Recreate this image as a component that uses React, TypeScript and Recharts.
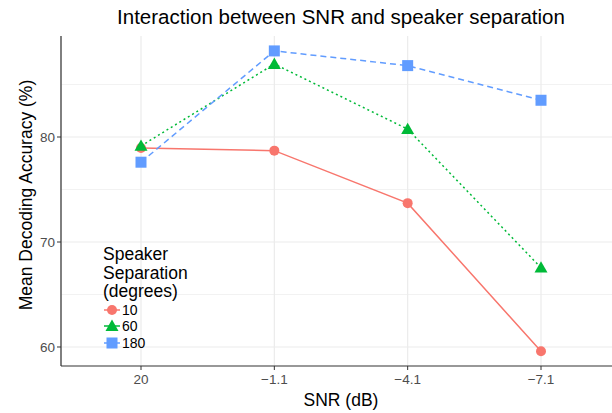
import React from 'react';
import {
  LineChart, Line, XAxis, YAxis, CartesianGrid,
} from 'recharts';

// SNR levels on the x axis
const snrLabels = ['20', '\u22121.1', '\u22124.1', '\u22127.1'];

// Mean decoding accuracy (%) per speaker separation
const sep10 = [78.95, 78.7, 73.7, 59.6];
const sep60 = [79.15, 86.95, 80.75, 67.55];
const sep180 = [77.6, 88.2, 86.8, 83.5];

const yTicks = [60, 70, 80];
const yMinor = [65, 75, 85];

const chartData = snrLabels.map((snr, i) => ({
  snr,
  s10: sep10[i],
  s60: sep60[i],
  s180: sep180[i],
}));

const FONT = '"Liberation Sans", Arial, sans-serif';
const RED = '#F8766D';
const GREEN = '#00BA38';
const BLUE = '#619CFF';

const Triangle = (props: any) => {
  const { cx, cy } = props;
  if (cx == null || cy == null) return null;
  const r = 6.5;
  return (
    <polygon
      points={`${cx},${cy - r} ${cx - r},${cy + r * 0.75} ${cx + r},${cy + r * 0.75}`}
      fill={GREEN}
    />
  );
};

const Square = (props: any) => {
  const { cx, cy } = props;
  if (cx == null || cy == null) return null;
  return <rect x={cx - 5.5} y={cy - 5.5} width={11} height={11} fill={BLUE} />;
};

const Circle = (props: any) => {
  const { cx, cy } = props;
  if (cx == null || cy == null) return null;
  return <circle cx={cx} cy={cy} r={5} fill={RED} />;
};

const YTitle = () => (
  <text
    x={27}
    y={195}
    transform="rotate(-90 27 195)"
    textAnchor="middle"
    dominantBaseline="middle"
    fontSize={17.5}
    fontFamily={FONT}
    fill="#000"
  >
    Mean Decoding Accuracy (%)
  </text>
);

const legendItems = [
  { label: '10', color: RED, shape: 'circle' },
  { label: '60', color: GREEN, shape: 'triangle' },
  { label: '180', color: BLUE, shape: 'square' },
];

const LegendBox = () => (
  <div style={{ position: 'absolute', left: 103, top: 245, fontFamily: FONT, color: '#000' }}>
    <div style={{ fontSize: 17.5, lineHeight: '18.5px', marginBottom: 1 }}>
      Speaker<br />Separation<br />(degrees)
    </div>
    {legendItems.map((it) => (
      <div key={it.label} style={{ display: 'flex', alignItems: 'center', height: 16.5, fontSize: 14 }}>
        <svg width={18} height={14} style={{ marginRight: 1 }}>
          <line x1={1} y1={7} x2={17} y2={7} stroke={it.color} strokeWidth={1.5} />
          {it.shape === 'circle' && <circle cx={9} cy={7} r={5} fill={it.color} />}
          {it.shape === 'triangle' && <polygon points="9,0.5 2.5,12 15.5,12" fill={it.color} />}
          {it.shape === 'square' && <rect x={3.5} y={1.5} width={11} height={11} fill={it.color} />}
        </svg>
        {it.label}
      </div>
    ))}
  </div>
);

export default function App() {
  return (
    <div style={{ position: 'absolute', left: 0, top: 0, width: 612, height: 413, overflow: 'hidden', background: '#fff' }}>
      <LineChart
        width={630}
        height={413}
        data={chartData}
        margin={{ top: 36, right: 9, left: 0, bottom: 0 }}
        style={{ position: 'absolute', left: 0, top: 0 }}
      >
        <CartesianGrid
          stroke="#f2f2f2"
          strokeWidth={1}
          vertical={false}
          horizontalValues={yMinor}
        />
        <CartesianGrid stroke="#ebebeb" strokeWidth={1.2} horizontalValues={yTicks} />
        <XAxis
          dataKey="snr"
          type="category"
          padding={{ left: 80, right: 80 }}
          height={47}
          axisLine={{ stroke: '#333', strokeWidth: 1.2 }}
          tickLine={{ stroke: '#333' }}
          tickSize={4}
          tickMargin={4}
          tick={{ fill: '#4d4d4d', fontSize: 13.5, fontFamily: FONT }}
          label={{ value: 'SNR (dB)', position: 'insideBottom', offset: 7, fill: '#000', fontSize: 17.5, fontFamily: FONT }}
        />
        <XAxis
          xAxisId="top"
          dataKey="snr"
          orientation="top"
          padding={{ left: 80, right: 80 }}
          height={0}
          tick={false}
          tickLine={false}
          axisLine={{ stroke: '#333', strokeWidth: 1.2 }}
        />
        <YAxis
          type="number"
          domain={[58.19, 89.62]}
          ticks={yTicks}
          width={61}
          allowDataOverflow
          axisLine={{ stroke: '#333', strokeWidth: 1.2 }}
          tickLine={{ stroke: '#333' }}
          tickSize={4}
          tick={{ fill: '#4d4d4d', fontSize: 13.5, fontFamily: FONT }}
          label={<YTitle />}
        />
        <Line
          dataKey="s10"
          name="10"
          stroke={RED}
          strokeWidth={1.5}
          dot={<Circle />}
          activeDot={false}
          isAnimationActive={false}
        />
        <Line
          dataKey="s60"
          name="60"
          stroke={GREEN}
          strokeWidth={1.5}
          strokeDasharray="2 3"
          dot={<Triangle />}
          activeDot={false}
          isAnimationActive={false}
        />
        <Line
          dataKey="s180"
          name="180"
          stroke={BLUE}
          strokeWidth={1.5}
          strokeDasharray="6 4"
          dot={<Square />}
          activeDot={false}
          isAnimationActive={false}
        />
      </LineChart>
      <div style={{
        position: 'absolute', top: 5, left: 61, width: 560, textAlign: 'center',
        fontFamily: FONT, fontSize: 20.5, color: '#000',
      }}>
        Interaction between SNR and speaker separation
      </div>
      <LegendBox />
    </div>
  );
}
